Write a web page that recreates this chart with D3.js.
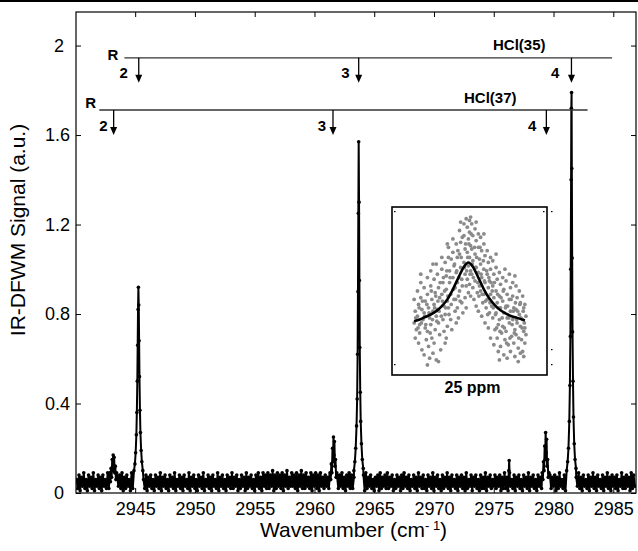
<!DOCTYPE html>
<html lang="en">

<head>
    <meta charset="utf-8">
    <title>IR-DFWM spectrum of HCl</title>
    <script src="https://d3js.org/d3.v7.min.js"></script>
    <style>
        body { margin: 0; background: #fff; }
        svg { display: block; font-family: "Liberation Sans", Arial, Helvetica, sans-serif; }
        .axis text { font-size: 18px; fill: #000; }
        .axis line { stroke: #000; }
        .axis path { display: none; }
        .note { font-size: 15px; font-weight: bold; }
    </style>
</head>

<body>
    <script type="text/javascript">

        //Consts
        const w = 638;
        const h = 551;
        const plot = { left: 76, right: 636, top: 12, bottom: 493 };

        //tick labels
        const xTicks = [2945, 2950, 2955, 2960, 2965, 2970, 2975, 2980, 2985];
        const yTicks = [0, 0.4, 0.8, 1.2, 1.6, 2];

        /* baseline noise in hundredths of a.u.,
           one value every 0.1 cm-1 starting at 2940.1 */
        const noiseStart = 2940.1;
        const noiseStep = 0.1;
        const noiseHundredths = [
            6,2,8,1,7,3,9,2,6,1, 8,3,7,2,9,1,6,3,8,2, 7,1,8,3,6,2,9,2,7,3, 8,2,6,1,7,3,8,2,9,1,
            7,2,8,3,6,1,9,2,7,3, 8,1,7,2,9,3,6,2,8,1, 7,3,8,2,6,1,8,3,7,2, 9,1,7,3,8,2,6,1,8,3,
            7,2,9,1,6,3,8,2,7,1, 8,3,6,2,9,1,7,3,8,2, 6,1,8,3,7,2,9,1,6,3, 8,2,7,1,8,3,6,2,9,1,
            7,3,8,2,6,1,8,3,7,2, 9,2,7,3,8,1,6,2,8,3, 7,1,9,2,7,3,8,2,6,1, 8,3,9,2,7,1,9,3,8,2,
            9,2,8,3,10,1,8,2,9,3, 8,2,9,1,8,3,10,2,7,3, 9,3,8,2,9,1,8,3,10,2, 8,2,9,3,7,2,9,1,8,3,
            9,2,8,1,9,3,7,2,8,3, 7,2,8,3,9,2,8,1,7,2, 8,3,9,2,7,1,8,3,9,2, 8,2,7,3,9,1,8,2,7,3,
            8,1,9,2,7,3,8,2,6,1, 7,3,8,1,9,2,7,3,8,2, 9,2,7,3,8,1,6,2,8,3, 7,1,8,2,9,3,7,2,8,1,
            6,3,8,2,7,1,9,3,7,2, 8,2,6,1,8,3,7,2,9,1, 7,3,8,2,6,1,8,2,7,3, 9,2,7,1,8,3,6,2,8,1,
            7,3,8,2,7,1,9,2,6,3, 8,1,7,3,8,2,6,1,8,2, 7,2,9,1,7,3,8,2,6,3, 8,2,7,3,8,1,7,2,9,2,
            7,1,8,3,6,2,8,1,7,3, 8,2,6,1,8,3,7,2,9,1, 7,3,8,2,6,1,8,3,7,2, 8,2,7,3,9,1,8,2,7,3,
            8,1,7,2,9,3,6,2,8,1, 7,3,8,2,6,1,8,2,7,3, 9,2,7,1,8,3,6,2,8,1, 7,3,9,2,7,1,8,3,6,2,
            8,1,7,3,9,2,7,1,8,3, 7,2,8,1,6,3,9,2,7,2, 8,3,7,1,9,2,8,3
        ];

        //peaks [wavenumber, signal]
        const peakR2_37 = [[2942.88,.09],[2942.93,.05],[2942.98,.11],[2943.03,.07],[2943.08,.15],[2943.12,.10],[2943.16,.17],
            [2943.20,.12],[2943.24,.16],[2943.29,.09],[2943.34,.12],[2943.39,.06],[2943.45,.09]];
        const peakR2_35 = [[2944.90,.10],[2944.98,.13],[2945.04,.18],[2945.10,.26],[2945.14,.36],[2945.18,.50],[2945.21,.66],
            [2945.24,.82],[2945.27,.92],[2945.30,.84],[2945.33,.68],[2945.36,.52],[2945.40,.37],[2945.44,.27],[2945.50,.19],
            [2945.56,.14],[2945.64,.10]];
        const peakR3_37 = [[2961.30,.09],[2961.36,.06],[2961.41,.13],[2961.46,.09],[2961.51,.20],[2961.55,.14],[2961.59,.25],
            [2961.63,.17],[2961.67,.23],[2961.71,.12],[2961.76,.15],[2961.81,.07],[2961.87,.09]];
        const peakR3_35 = [[2963.30,.10],[2963.38,.14],[2963.45,.20],[2963.52,.30],[2963.57,.42],[2963.61,.62],[2963.64,.90],
            [2963.67,1.25],[2963.70,1.57],[2963.73,1.30],[2963.76,.95],[2963.79,.65],[2963.83,.45],[2963.87,.32],[2963.93,.22],
            [2964.00,.15],[2964.08,.11]];
        const spike2976 = [[2976.22,.04],[2976.26,.10],[2976.29,.145],[2976.32,.09],[2976.36,.05]];
        const peakR4_37 = [[2979.05,.09],[2979.11,.06],[2979.16,.14],[2979.21,.10],[2979.26,.21],[2979.30,.15],[2979.34,.27],
            [2979.38,.18],[2979.42,.24],[2979.46,.12],[2979.51,.15],[2979.56,.07],[2979.62,.09]];
        const peakR4_35 = [[2981.10,.10],[2981.18,.14],[2981.25,.20],[2981.32,.32],[2981.37,.48],[2981.41,.70],[2981.44,1.00],
            [2981.47,1.40],[2981.49,1.72],[2981.51,1.79],[2981.53,1.45],[2981.56,1.05],[2981.59,.72],[2981.63,.50],[2981.67,.34],
            [2981.73,.22],[2981.80,.15],[2981.88,.11]];

        //line assignments
        const hcl35Pos = [2945.3, 2963.7, 2981.5];
        const hcl37Pos = [2943.2, 2961.55, 2979.4];
        const branchLabels = ["2", "3", "4"];
        const hcl35Span = [2944.1, 2984.9];
        const hcl37Span = [2942.0, 2982.85];
        const hcl35Level = 1.945;
        const hcl37Level = 1.712;

        //inset: single line scan at 25 ppm (detuning, signal)
        const insetPts = [
            [-50,.45],[-49,.38],[-50,.31],[-48,.27],[-49,.22],[-47,.50],[-46,.42],[-47,.35],[-45,.30],[-46,.19],[-44,.55],
            [-44,.46],[-43,.39],[-45,.25],[-42,.33],[-43,.15],[-41,.52],[-40,.44],[-41,.37],[-40,.28],[-39,.21],[-41,.12],
            [-38,.58],[-38,.48],[-37,.40],[-36,.34],[-38,.26],[-37,.17],[-36,.10],[-35,.62],[-35,.53],[-34,.45],[-33,.38],
            [-35,.30],[-34,.22],[-33,.13],[-32,.57],[-31,.49],[-32,.42],[-30,.35],[-31,.27],[-32,.19],[-30,.66],[-30,.09],
            [-29,.60],[-28,.52],[-27,.46],[-29,.39],[-28,.31],[-27,.24],[-26,.15],[-25,.70],[-25,.63],[-24,.55],[-25,.48],
            [-23,.41],[-24,.33],[-23,.26],[-22,.19],[-22,.67],[-21,.59],[-21,.51],[-20,.44],[-22,.36],[-20,.29],[-21,.22],
            [-19,.76],[-19,.70],[-18,.62],[-18,.55],[-17,.48],[-19,.40],[-17,.33],[-16,.27],[-15,.81],[-15,.73],[-14,.65],
            [-15,.58],[-13,.52],[-14,.45],[-13,.38],[-12,.31],[-12,.78],[-11,.70],[-12,.61],[-11,.55],[-10,.47],[-11,.40],
            [-10,.34],[-9,.86],[-8,.79],[-9,.72],[-8,.64],[-7,.57],[-9,.50],[-7,.43],[-6,.37],[-5,.90],[-5,.83],[-4,.75],
            [-5,.67],[-4,.60],[-3,.53],[-4,.46],[-3,.40],[-2,.88],[-1,.81],[-2,.73],[-1,.65],[-2,.57],[-1,.49],
            [0,.92],[0,.85],[1,.77],[0,.70],[1,.62],[0,.54],[1,.47],[2,.90],[3,.83],[2,.75],[3,.68],[2,.60],[3,.52],[4,.45],
            [5,.87],[6,.80],[5,.72],[6,.64],[5,.56],[7,.49],[6,.41],[8,.84],[8,.76],[9,.69],[8,.61],[9,.53],[8,.38],
            [10,.82],[11,.74],[10,.66],[11,.58],[10,.50],[12,.43],[11,.35],[13,.78],[14,.71],[13,.63],[14,.55],[13,.48],
            [15,.40],[14,.31],[16,.74],[17,.67],[16,.60],[17,.52],[16,.45],[18,.37],[17,.28],[19,.70],[19,.63],[18,.56],
            [19,.48],[19,.22],[20,.41],[21,.68],[22,.60],[21,.53],[22,.46],[21,.34],[23,.27],[22,.18],[24,.64],[25,.57],
            [24,.50],[25,.43],[24,.37],[26,.30],[25,.22],[26,.14],[27,.61],[28,.54],[27,.47],[28,.40],[27,.33],[29,.25],
            [28,.17],[30,.58],[31,.51],[30,.44],[31,.37],[30,.29],[32,.21],[31,.12],[33,.56],[34,.48],[33,.41],[34,.34],
            [33,.26],[35,.18],[34,.10],[36,.60],[37,.52],[36,.45],[37,.38],[36,.31],[38,.23],[37,.14],[39,.55],[39,.47],
            [40,.40],[39,.33],[41,.27],[40,.19],[41,.11],[42,.53],[43,.46],[42,.39],[43,.31],[42,.24],[44,.16],[45,.50],
            [46,.43],[45,.36],[46,.29],[47,.21],[46,.13],[48,.47],[49,.40],[48,.33],[49,.26],[50,.19],[49,.11],[50,.42],
            [51,.35],[50,.28],
            [-48.5,.34],[-46.5,.28],[-45.5,.40],[-43.5,.31],[-42.5,.44],[-40.5,.35],[-39.5,.30],[-38.5,.42],[-36.5,.37],
            [-35.5,.25],[-34.5,.50],[-33.5,.33],[-31.5,.40],[-30.5,.47],[-29.5,.32],[-28.5,.44],[-27.5,.38],[-26.5,.55],
            [-25.5,.35],[-24.5,.44],[-23.5,.58],[-22.5,.50],[-21.5,.40],[-20.5,.62],[-19.5,.47],[-18.5,.36],[-17.5,.58],
            [-16.5,.69],[-16.5,.42],[-14.5,.51],[-13.5,.66],[-12.5,.45],[-11.5,.62],[-10.5,.74],[-9.5,.58],[-8.5,.44],
            [-7.5,.70],[-6.5,.82],[-6.5,.53],[-4.5,.64],[-3.5,.78],[-2.5,.62],[-1.5,.70],[-0.5,.78],[0.5,.60],[1.5,.84],
            [2.5,.66],[3.5,.58],[4.5,.76],[5.5,.64],[6.5,.70],[7.5,.55],[8.5,.47],[9.5,.76],[10.5,.60],[11.5,.48],
            [12.5,.68],[13.5,.56],[14.5,.44],[15.5,.62],[16.5,.36],[17.5,.58],[18.5,.43],[19.5,.55],[20.5,.50],[21.5,.40],
            [22.5,.55],[23.5,.36],[24.5,.28],[25.5,.48],[26.5,.40],[27.5,.26],[28.5,.46],[29.5,.34],[30.5,.50],[31.5,.28],
            [32.5,.40],[33.5,.19],[34.5,.41],[35.5,.34],[36.5,.22],[37.5,.45],[38.5,.30],[39.5,.38],[40.5,.25],[41.5,.43],
            [42.5,.33],[43.5,.38],[44.5,.22],[45.5,.42],[46.5,.34],[47.5,.28],[48.5,.38],[49.5,.31],[51,.24],
            [-44,.60],[-33,.66],[-20,.78],[-8,.91],[-3,.93],[1,.94],[6,.91],[13,.84],[24,.72],[32,.63],[41,.59],
            [-38,.06],[-28,.08],[27,.09],[44,.08],[48,.14]
        ];
        //Lorentzian fit
        const insetFitX = [-50, -45, -40, -35, -30, -25, -20, -15, -10, -5, -1, 3, 8, 13, 18, 23, 28, 33, 38, 43, 50];
        const insetFitY = [.32, .33, .345, .36, .38, .41, .45, .51, .58, .645, .67, .645, .58, .51, .455, .415, .385, .365, .35, .34, .325];
        const insetLabel = "25 ppm";

        //build the spectrum: noise everywhere except inside peak windows
        const peaks = [peakR2_37, peakR2_35, peakR3_37, peakR3_35, spike2976, peakR4_37, peakR4_35];
        const windows = peaks.map(p => [p[0][0], p[p.length - 1][0]]);
        let spectrum = noiseHundredths
            .map((v, i) => ({ wn: noiseStart + i * noiseStep, s: v / 100 }))
            .filter(d => !windows.some(wi => d.wn >= wi[0] && d.wn <= wi[1]));
        peaks.forEach(p => p.forEach(d => spectrum.push({ wn: d[0], s: d[1] })));
        spectrum.sort((a, b) => a.wn - b.wn);

        //scales
        const xScale = d3.scaleLinear()
            .domain([2940.05, 2986.9])
            .range([plot.left, plot.right]);

        const yScale = d3.scaleLinear()
            .domain([0, 2.15])
            .range([plot.bottom, plot.top]);

        //SVG
        const svg = d3.select("body")
            .append("svg")
            .attr("width", w)
            .attr("height", h);

        //rule at the very top of the figure
        svg.append("rect")
            .attr("x", 0).attr("y", 0)
            .attr("width", w).attr("height", 2)
            .attr("fill", "#000");

        svg.append("clipPath").attr("id", "clip")
            .append("rect")
            .attr("x", plot.left).attr("y", plot.top)
            .attr("width", plot.right - plot.left)
            .attr("height", plot.bottom - plot.top);

        //spectrum line + markers
        const line = d3.line()
            .x(d => xScale(d.wn))
            .y(d => yScale(d.s));

        const g = svg.append("g").attr("clip-path", "url(#clip)");

        g.append("path")
            .attr("d", line(spectrum))
            .attr("fill", "none")
            .attr("stroke", "#000")
            .attr("stroke-width", 2);

        g.selectAll("circle")
            .data(spectrum)
            .join("circle")
            .attr("cx", d => xScale(d.wn))
            .attr("cy", d => yScale(d.s))
            .attr("r", 1.8)
            .attr("fill", "#000");

        //axes - ticks point inward
        const bottomAxis = d3.axisBottom(xScale)
            .tickValues(xTicks)
            .tickSizeInner(-5).tickSizeOuter(0)
            .tickPadding(9)
            .tickFormat(d3.format("d"));

        svg.append("g")
            .attr("class", "axis")
            .attr("transform", "translate(0," + plot.bottom + ")")
            .call(bottomAxis);

        svg.append("g")
            .attr("class", "axis")
            .attr("transform", "translate(0," + plot.top + ")")
            .call(d3.axisTop(xScale).tickValues(xTicks).tickSizeInner(-5).tickSizeOuter(0).tickFormat(""));

        const leftAxis = d3.axisLeft(yScale)
            .tickValues(yTicks)
            .tickSizeInner(-5).tickSizeOuter(0)
            .tickPadding(6)
            .tickFormat(d => d3.format("")(d));

        svg.append("g")
            .attr("class", "axis")
            .attr("transform", "translate(" + plot.left + ",0)")
            .call(leftAxis)
            .selectAll("text")
            .attr("dx", d => Number.isInteger(d) ? -6 : 0);

        svg.append("g")
            .attr("class", "axis")
            .attr("transform", "translate(" + plot.right + ",0)")
            .call(d3.axisRight(yScale).tickValues(yTicks).tickSizeInner(-5).tickSizeOuter(0).tickFormat(""));

        //frame
        svg.append("rect")
            .attr("x", plot.left).attr("y", plot.top)
            .attr("width", plot.right - plot.left)
            .attr("height", plot.bottom - plot.top)
            .attr("fill", "none")
            .attr("stroke", "#000")
            .attr("stroke-width", 1.2);

        //line assignments with arrows
        function branch(pos, span, level, title, titleX, titleDy, rX, rDy, numDx, numDy) {
            const yl = yScale(level);
            svg.append("line")
                .attr("x1", xScale(span[0])).attr("x2", xScale(span[1]))
                .attr("y1", yl).attr("y2", yl)
                .attr("stroke", "#333").attr("stroke-width", 1.4);

            pos.forEach((p, i) => {
                const x = xScale(p);
                svg.append("line")
                    .attr("x1", x).attr("x2", x)
                    .attr("y1", yl).attr("y2", yl + 18)
                    .attr("stroke", "#000").attr("stroke-width", 1.3);
                svg.append("path")
                    .attr("d", `M${x - 3.5},${yl + 17}L${x + 3.5},${yl + 17}L${x},${yl + 25}Z`)
                    .attr("fill", "#000");
                svg.append("text")
                    .attr("class", "note")
                    .attr("x", x + numDx[i]).attr("y", yl + numDy)
                    .attr("text-anchor", "end")
                    .text(branchLabels[i]);
            });

            svg.append("text")
                .attr("class", "note")
                .attr("x", xScale(span[0]) + rX).attr("y", yl + rDy)
                .text("R");

            svg.append("text")
                .attr("class", "note")
                .attr("x", titleX).attr("y", yl + titleDy)
                .text(title);
        }

        branch(hcl35Pos, hcl35Span, hcl35Level, "HCl(35)", 493, -8, -17, 2, [-11, -9, -12], 20);
        branch(hcl37Pos, hcl37Span, hcl37Level, "HCl(37)", 464, -7, -14, -2, [-6, -7, -10], 21);

        //inset
        const inset = { left: 392, right: 547, top: 207, bottom: 375 };
        const ix = d3.scaleLinear().domain([-70, 70]).range([inset.left, inset.right]);
        const iy = d3.scaleLinear().domain([0, 1]).range([inset.bottom, inset.top]);

        svg.append("rect")
            .attr("x", inset.left).attr("y", inset.top)
            .attr("width", inset.right - inset.left)
            .attr("height", inset.bottom - inset.top)
            .attr("fill", "#fff")
            .attr("stroke", "#000")
            .attr("stroke-width", 1.6);

        svg.append("g")
            .selectAll("circle")
            .data(insetPts)
            .join("circle")
            .attr("cx", d => ix(d[0]))
            .attr("cy", d => iy(d[1]))
            .attr("r", 1.9)
            .attr("fill", "#8a8a8a");

        const fitLine = d3.line()
            .x(d => ix(d[0]))
            .y(d => iy(d[1]))
            .curve(d3.curveMonotoneX);

        svg.append("path")
            .attr("d", fitLine(insetFitX.map((x, i) => [x, insetFitY[i]])))
            .attr("fill", "none")
            .attr("stroke", "#000")
            .attr("stroke-width", 2.6);

        //stray inset tick marks
        [[inset.left + 2, inset.top + 4], [inset.right - 4, inset.top + 4], [inset.left + 2, inset.bottom - 11],
         [inset.right + 4, inset.top + 4], [inset.right + 4, inset.bottom - 26], [inset.right + 4, inset.bottom - 11]]
            .forEach(t => svg.append("rect").attr("x", t[0]).attr("y", t[1]).attr("width", 1.5).attr("height", 1.2).attr("fill", "#000"));

        svg.append("text")
            .attr("class", "note")
            .attr("x", (inset.left + inset.right) / 2 + 3)
            .attr("y", 393)
            .attr("text-anchor", "middle")
            .style("font-size", "16px")
            .text(insetLabel);

        //x-axis label
        const xl = svg.append("text")
            .attr("x", 260)
            .attr("y", 537)
            .style("font-size", "21px");
        xl.append("tspan").text("Wavenumber (cm");
        xl.append("tspan").attr("dy", -7).style("font-size", "13px").text("- 1");
        xl.append("tspan").attr("dy", 7).text(")");

        //y-axis label
        svg.append("text")
            .attr("transform", "translate(25,230) rotate(-90)")
            .attr("text-anchor", "middle")
            .style("font-size", "21px")
            .text("IR-DFWM Signal (a.u.)");

    </script>
</body>

</html>
